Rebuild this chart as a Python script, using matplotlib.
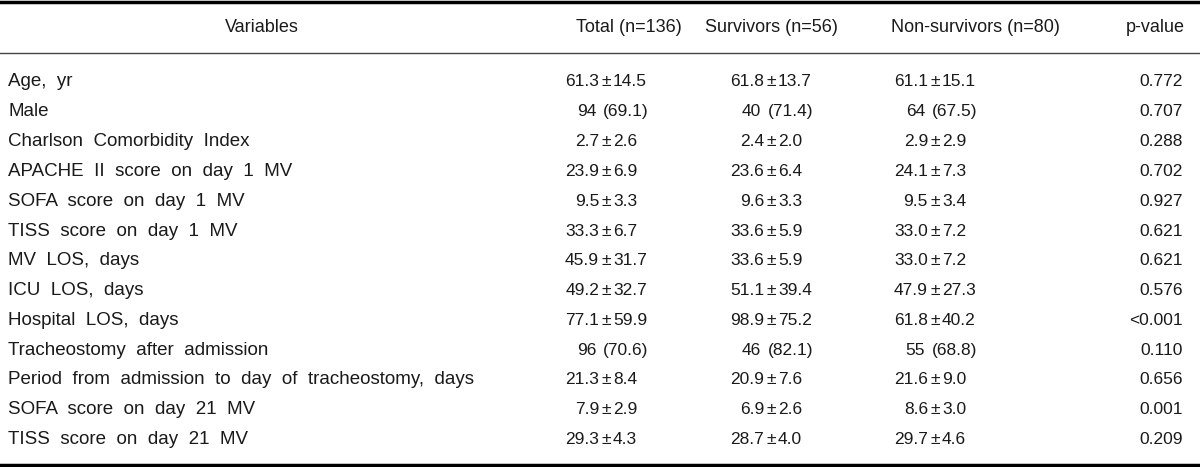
import matplotlib.pyplot as plt

variables = [
    'Age, yr', 'Male', 'Charlson Comorbidity Index', 'APACHE II score on day 1 MV',
    'SOFA score on day 1 MV', 'TISS score on day 1 MV', 'MV LOS, days', 'ICU LOS, days',
    'Hospital LOS, days', 'Tracheostomy after admission',
    'Period from admission to day of tracheostomy, days',
    'SOFA score on day 21 MV', 'TISS score on day 21 MV',
]
total = ['61.3±14.5', '94 (69.1)', '2.7±2.6', '23.9±6.9', '9.5±3.3', '33.3±6.7', '45.9±31.7',
         '49.2±32.7', '77.1±59.9', '96 (70.6)', '21.3±8.4', '7.9±2.9', '29.3±4.3']
survivors = ['61.8±13.7', '40 (71.4)', '2.4±2.0', '23.6±6.4', '9.6±3.3', '33.6±5.9', '33.6±5.9',
             '51.1±39.4', '98.9±75.2', '46 (82.1)', '20.9±7.6', '6.9±2.6', '28.7±4.0']
non_survivors = ['61.1±15.1', '64 (67.5)', '2.9±2.9', '24.1±7.3', '9.5±3.4', '33.0±7.2', '33.0±7.2',
                 '47.9±27.3', '61.8±40.2', '55 (68.8)', '21.6±9.0', '8.6±3.0', '29.7±4.6']
p_values = ['0.772', '0.707', '0.288', '0.702', '0.927', '0.621', '0.621',
            '0.576', '<0.001', '0.110', '0.656', '0.001', '0.209']
headers = ['Variables', 'Total (n=136)', 'Survivors (n=56)', 'Non-survivors (n=80)', 'p-value']

W, H = 1200, 467
fig = plt.figure(figsize=(W / 100, H / 100), dpi=100)
ax = fig.add_axes([0, 0, 1, 1])
ax.set_xlim(0, W)
ax.set_ylim(H, 0)
ax.axis('off')

fam = ['Liberation Sans Narrow', 'Liberation Sans', 'DejaVu Sans']
font = dict(family=fam, fontsize=13.5, color='#1a1a1a')
head_font = dict(family=fam, fontsize=13, color='#1a1a1a')
num_font = dict(family=fam, fontsize=12.5, color='#1a1a1a')

# rules
ax.plot([0, W], [1.5, 1.5], color='black', lw=2.5)
ax.plot([0, W], [52.5, 52.5], color='#444444', lw=1)
ax.plot([0, W], [464.5, 464.5], color='black', lw=2.5)

header_x = [262, 629, 771, 975, 1155]
for hx, h in zip(header_x, headers):
    ax.text(hx, 28, h, ha='center', va='center', **head_font)

y0, dy = 82, 29.8
anchors = [606, 771, 935]  # centre of the ± sign
for i, var in enumerate(variables):
    y = y0 + i * dy
    ax.text(8, y, var.replace(' ', '  '), ha='left', va='center', **font)
    for a, col in zip(anchors, [total, survivors, non_survivors]):
        s = col[i]
        if '±' in s:
            left, right = s.split('±')
            ax.text(a - 7, y, left, ha='right', va='center', **num_font)
            ax.text(a, y, '±', ha='center', va='center', **num_font)
            ax.text(a + 7, y, right, ha='left', va='center', **num_font)
        else:
            left, right = s.split(' ')
            ax.text(a - 10, y, left, ha='right', va='center', **num_font)
            ax.text(a - 3, y, right, ha='left', va='center', **num_font)
    ax.text(1183, y, p_values[i], ha='right', va='center', **num_font)

fig.savefig('out.png', dpi=100, facecolor='white')
